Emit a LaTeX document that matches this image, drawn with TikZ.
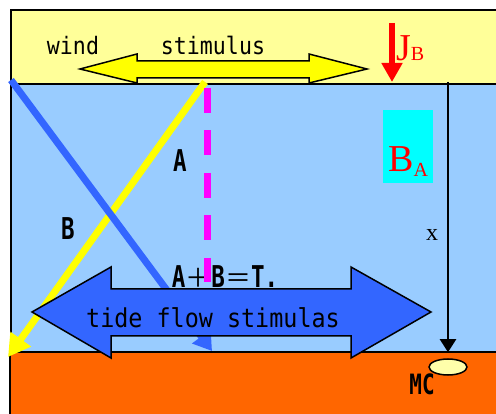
\documentclass[tikz,border=0pt]{standalone}
\usepackage{fontspec}
\newfontfamily\gothic[FakeStretch=0.9]{DejaVu Sans Mono}
\newfontfamily\narrowgothic[FakeStretch=0.75]{DejaVu Sans Mono}
\newfontfamily\jpgothic{Noto Sans CJK JP}
\newfontfamily\mincho{Liberation Serif}
\usetikzlibrary{arrows.meta,shapes.geometric}
\definecolor{airyellow}{HTML}{FFFF99}
\definecolor{seablue}{HTML}{99CCFF}
\definecolor{mudorange}{HTML}{FF6600}
\definecolor{flowblue}{HTML}{3366FF}
\definecolor{paleyellow}{HTML}{FFFFAA}
\definecolor{boxcyan}{HTML}{00FFFF}
\definecolor{dashpink}{HTML}{FF00FF}
\definecolor{rayyellow}{HTML}{FFFF00}
\definecolor{jred}{HTML}{FF0000}
\tikzset{
  thin txt/.style={anchor=base, inner sep=0, font=\gothic\fontsize{24}{24}\selectfont},
  bold txt/.style={anchor=base, inner sep=0, font=\narrowgothic\bfseries\fontsize{30}{30}\selectfont},
  serif txt/.style={anchor=base west, inner sep=0, text=jred, font=\mincho},
  ray/.style={line width=7pt},
  border/.style={draw=black, line width=1.5pt}
}

\begin{document}
\begin{tikzpicture}[x=1pt,y=-1pt]
\clip (0,0) rectangle (496,414);
\fill [white] (0,0) rectangle (496,414);
% layers
\filldraw [border, fill=airyellow] (11,10) rectangle (510,84);
\filldraw [border, fill=seablue] (11,84) rectangle (510,352);
\filldraw [border, fill=mudorange] (10,352) rectangle (510,430);
\fill [boxcyan] (383,110) rectangle (433,183);

\coordinate (ytop) at (205,82);
\coordinate (ybot) at (8,357);
\coordinate (btop) at (11,80);
\coordinate (bbot) at (212,351);
\coordinate (mtop) at (207,88);
\coordinate (mbot) at (207,282);
\coordinate (jtop) at (392,23);
\coordinate (jbot) at (392,82);
\coordinate (xtop) at (448,82);

\draw [ray, rayyellow, -{Triangle[width=24pt,length=22pt]}] (ytop) -- (ybot);
\draw [ray, flowblue, -{Triangle[width=22pt,length=18pt]}] (btop) -- (bbot);

% tide flow arrow
\filldraw [border, fill=flowblue] (32,312) -- (111,267) -- (111,289) -- (351,289) -- (351,267)
  -- (431,312) -- (351,358) -- (351,336) -- (111,336) -- (111,358) -- cycle;
% wind arrow
\filldraw [border, fill=rayyellow] (80,69) -- (137,54) -- (137,61) -- (309,61) -- (309,54)
  -- (367,69) -- (309,83) -- (309,78) -- (137,78) -- (137,83) -- cycle;

\node [draw, ellipse, fill=paleyellow, line width=1.5pt, minimum width=38pt, minimum height=16pt, inner sep=0] (mc) at (448,367) {};
\draw [jred, line width=6pt, -{Triangle[width=20pt,length=19pt]}] (jtop) -- (jbot);
\draw [line width=2pt, shorten >=6pt, -{Triangle[width=16pt,length=13pt]}] (xtop) -- (mc.north);

\node [thin txt] (wind) at (73,55) {wind};
\node [thin txt] (stim) at (213,55) {stimulus};
\node [thin txt, font=\gothic\fontsize{26}{26}\selectfont] (tide) at (213,328) {tide flow stimulas};
\node [bold txt] (la) at (180,172) {A};
\node [bold txt] (lb) at (68,240) {B};
\node [bold txt] (sum) at (225,288) {A{\jpgothic\mdseries\fontsize{26}{26}\selectfont ＋}B{\jpgothic\mdseries\fontsize{26}{26}\selectfont ＝}T.};
\node [bold txt, font=\narrowgothic\bfseries\fontsize{28}{28}\selectfont] (mclbl) at (422,395) {MC};
\node [serif txt] (jb) at (396,61) {\fontsize{38}{38}\selectfont J\fontsize{20}{20}\selectfont B};
\node [serif txt] (ba) at (388,172) {\fontsize{38}{38}\selectfont B\fontsize{20}{20}\selectfont\raisebox{-5pt}{A}};
\node [anchor=base, inner sep=0, font=\mincho\fontsize{24}{24}\selectfont] (xl) at (432,241) {x};

\draw [ray, dashpink, dash pattern=on 25pt off 17.5pt] (mtop) -- (mbot);
\end{tikzpicture}
\end{document}
